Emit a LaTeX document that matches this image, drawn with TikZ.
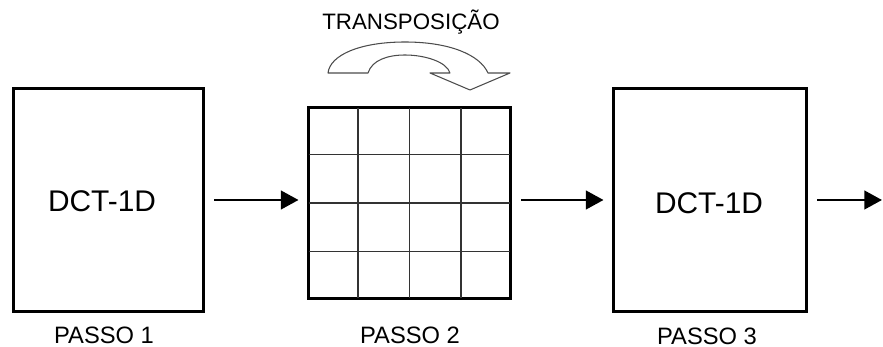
\documentclass[tikz,border=0pt]{standalone}
\usepackage{fontspec}
\setmainfont{Liberation Sans}
\usetikzlibrary{arrows.meta,calc}
\begin{document}
\begin{tikzpicture}[x=0.02cm,y=-0.02cm,
  blockbox/.style={draw=black,line width=1.7pt,fill=white,inner sep=0pt},
  gridline/.style={draw=black!80,line width=0.8pt},
  flowarrow/.style={draw=black,line width=1.5pt,-{Triangle[length=10pt,width=10.5pt]}},
  blocktext/.style={font=\fontsize{17}{20}\selectfont,inner sep=0pt},
  steptext/.style={font=\fontsize{13.5}{16}\selectfont,inner sep=0pt},
  transptext/.style={font=\fontsize{12.7}{15}\selectfont,inner sep=0pt},
  bentarrow/.style={draw=black!70,line width=0.6pt,fill=white,line join=round}]
\useasboundingbox (0,0) rectangle (883,347);
% blocks
\node[blockbox,minimum width=3.82cm,minimum height=4.48cm] (b1) at (108.5,200) {};
\node[blockbox,minimum width=4.06cm,minimum height=3.84cm] (grid) at (409.5,203) {};
\node[blockbox,minimum width=3.88cm,minimum height=4.48cm] (b3) at (710,200) {};
% grid lines (inside the border)
\foreach \i in {1,2,3} {
  \draw[gridline] ($(grid.north west)!\i/4!(grid.north east)+(0,2)$) -- ($(grid.south west)!\i/4!(grid.south east)+(0,-2)$);
  \draw[gridline] ($(grid.north west)!\i/4!(grid.south west)+(2,0)$) -- ($(grid.north east)!\i/4!(grid.south east)+(-2,0)$);
}
% texts
\node[blocktext] (t1) at (102,201) {DCT-1D};
\node[blocktext] (t3) at (709,203) {DCT-1D};
\node[steptext] (p1) at (104,335) {PASSO 1};
\node[steptext] (p2) at (410,335) {PASSO 2};
\node[steptext] (p3) at (707,336) {PASSO 3};
\node[transptext] (tr) at (411,22) {TRANSPOSIÇÃO};
% bent hollow arrow
\draw[bentarrow] (328,73) -- (368,73)
  .. controls (372,60) and (388,55) .. (405,55)
  .. controls (425,55) and (447,62) .. (450,73)
  -- (430,73) -- (470,90) -- (510,73) -- (488,73)
  .. controls (480,55) and (450,42) .. (405,42)
  .. controls (360,42) and (330,55) .. (328,73) -- cycle;
% flow arrows
\coordinate (out) at (882,200);
\draw[flowarrow] ([xshift=0.18cm]b1.east) -- ([xshift=-0.16cm]b1.east -| grid.west);
\draw[flowarrow] ([xshift=0.18cm]b1.east -| grid.east) -- ([xshift=-0.16cm]b3.west);
\draw[flowarrow] ([xshift=0.18cm]b3.east) -- (out);
\end{tikzpicture}
\end{document}
